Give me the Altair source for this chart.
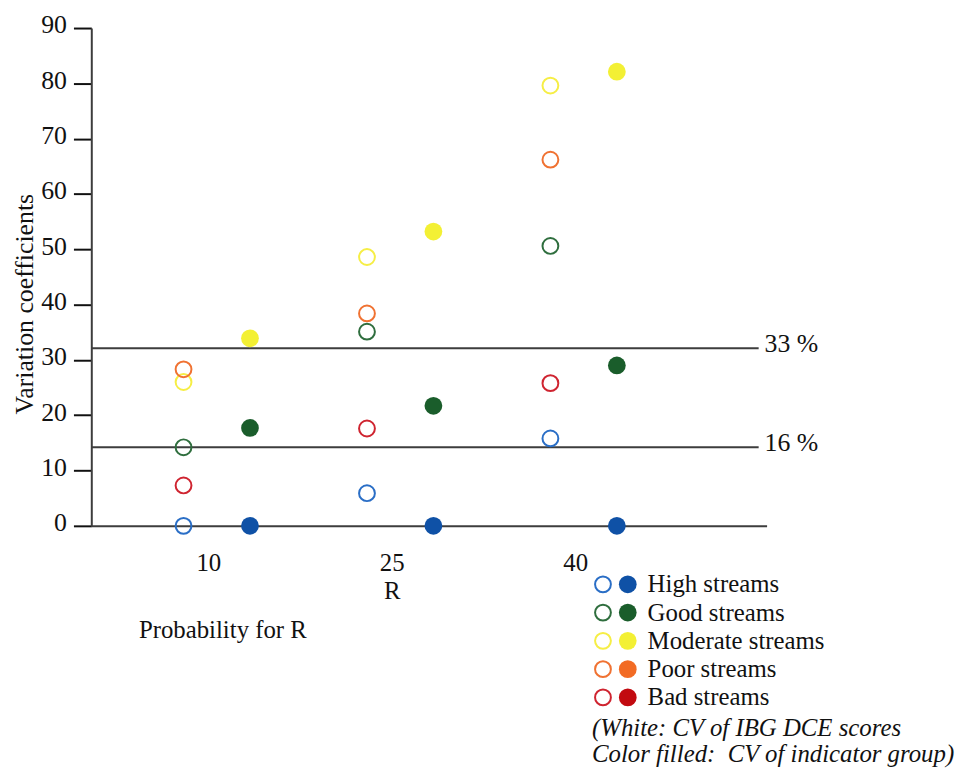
import altair as alt
import pandas as pd

FONT = "Liberation Serif"

# ---------------- data ----------------
categories = ["High streams", "Good streams", "Moderate streams", "Poor streams", "Bad streams"]
fill_colors = ["#0f51a6", "#1a5d2b", "#f3f034", "#f26b24", "#c20a10"]
open_colors = ["#2a6ec6", "#2f6e3e", "#f6ee45", "#f07232", "#cf2430"]

r_values = [10, 25, 40]

# CV of IBG DCE scores (open circles)
high_open = [0.0, 5.9, 15.8]
good_open = [14.2, 35.1, 50.6]
moderate_open = [26.0, 48.6, 79.6]
poor_open = [28.3, 38.4, 66.2]
bad_open = [7.3, 17.6, 25.8]

# CV of indicator group (filled circles)
high_filled = [0.0, 0.0, 0.0]
good_filled = [17.7, 21.7, 29.0]
moderate_filled = [33.9, 53.2, 82.1]

threshold_values = [32.1, 14.2]
threshold_labels = ["33 %", "16 %"]

y_ticks = [0, 10, 20, 30, 40, 50, 60, 70, 80, 90]

note_lines = ["(White: CV of IBG DCE scores", "Color filled:\u00a0 CV of indicator group)"]

# ---------------- tables ----------------
open_series = [high_open, good_open, moderate_open, poor_open, bad_open]
filled_series = {"High streams": high_filled, "Good streams": good_filled,
                 "Moderate streams": moderate_filled}

open_rows = []
for cat, col, vals in zip(categories, open_colors, open_series):
    for r, v in zip(r_values, vals):
        open_rows.append({"R": r, "cv": v, "cat": cat, "c": col})
open_df = pd.DataFrame(open_rows)

filled_rows = []
for cat, col in zip(categories, fill_colors):
    if cat in filled_series:
        for r, v in zip(r_values, filled_series[cat]):
            filled_rows.append({"R": r, "cv": v, "cat": cat, "c": col})
filled_df = pd.DataFrame(filled_rows)

thr_df = pd.DataFrame({"v": threshold_values, "label": threshold_labels})

# legend layout (pixel positions relative to plot origin)
leg_df = pd.DataFrame({
    "cat": categories,
    "oc": open_colors,
    "fc": fill_colors,
    "ly": [561 + i * 28.5 for i in range(len(categories))],
})
note_df = pd.DataFrame({"t": note_lines, "ly": [714, 740]})
prob_df = pd.DataFrame({"t": ["Probability for R"]})

# ---------------- scales/axes ----------------
AX = "#3d3d3d"
xscale = alt.Scale(domain=[0.43, 55.65], nice=False, zero=False)
yscale = alt.Scale(domain=[0, 90], nice=False, zero=False)

xaxis = alt.Axis(values=r_values, ticks=False, tickSize=0, grid=False,
                 domainColor=AX, domainWidth=2,
                 labelFont=FONT, labelFontSize=25, labelColor="#111",
                 labelPadding=45, labelBaseline="alphabetic",
                 title="R", titleFont=FONT, titleFontSize=25, titleFontWeight="normal",
                 titleColor="#111", titleX=303, titleY=73, titleBaseline="alphabetic")
yaxis = alt.Axis(values=y_ticks, grid=False, tickSize=18, tickWidth=2, tickColor="#111",
                 domainColor=AX, domainWidth=2,
                 labelFont=FONT, labelFontSize=26, labelColor="#111",
                 labelPadding=7, labelOffset=-3,
                 title="Variation coefficients", titleFont=FONT, titleFontSize=26,
                 titleFontWeight="normal", titleColor="#111",
                 titleX=-59, titleY=278, titleAngle=270, titleBaseline="alphabetic",
                 titleAlign="center")

# ---------------- layers ----------------
rules = alt.Chart(thr_df).mark_rule(color=AX, strokeWidth=2).encode(
    y=alt.Y("v:Q", scale=yscale, axis=yaxis),
    x=alt.value(0), x2=alt.value(673))

rule_text = alt.Chart(thr_df).mark_text(
    align="left", baseline="middle", dy=-4, font=FONT, fontSize=26, color="#111"
).encode(y=alt.Y("v:Q", scale=yscale), x=alt.value(679), text="label:N")

open_pts = alt.Chart(open_df).mark_point(
    shape="circle", filled=False, strokeWidth=2, size=255, opacity=1, xOffset=-25
).encode(
    x=alt.X("R:Q", scale=xscale, axis=xaxis),
    y=alt.Y("cv:Q", scale=yscale, axis=yaxis),
    color=alt.Color("c:N", scale=None))

filled_pts = alt.Chart(filled_df).mark_circle(size=320, opacity=1, xOffset=42).encode(
    x=alt.X("R:Q", scale=xscale),
    y=alt.Y("cv:Q", scale=yscale),
    color=alt.Color("c:N", scale=None))

leg_open = alt.Chart(leg_df).mark_point(
    shape="circle", filled=False, strokeWidth=2, size=255, opacity=1
).encode(x=alt.value(516), y=alt.Y("ly:Q", scale=None), color=alt.Color("oc:N", scale=None))

leg_fill = alt.Chart(leg_df).mark_circle(size=320, opacity=1).encode(
    x=alt.value(541), y=alt.Y("ly:Q", scale=None), color=alt.Color("fc:N", scale=None))

leg_text = alt.Chart(leg_df).mark_text(
    align="left", baseline="middle", font=FONT, fontSize=25, color="#111"
).encode(x=alt.value(561), y=alt.Y("ly:Q", scale=None), text="cat:N")

note_text = alt.Chart(note_df).mark_text(
    align="left", baseline="alphabetic", font=FONT, fontSize=25, fontStyle="italic", color="#111"
).encode(x=alt.value(505), y=alt.Y("ly:Q", scale=None), text="t:N")

prob_text = alt.Chart(prob_df).mark_text(
    align="left", baseline="alphabetic", font=FONT, fontSize=25, color="#111"
).encode(x=alt.value(48), y=alt.value(615), text="t:N")

chart = alt.layer(
    rules, rule_text, open_pts, filled_pts, leg_open, leg_fill, leg_text, note_text, prob_text
).properties(
    width=681, height=502,
    autosize=alt.AutoSizeParams(type="none"),
    padding={"left": 84, "top": 17, "right": 190, "bottom": 241},
).configure(font=FONT).configure_view(stroke=None, strokeWidth=0)

chart.save("out.html", embed_options={"renderer": "svg", "actions": False})
